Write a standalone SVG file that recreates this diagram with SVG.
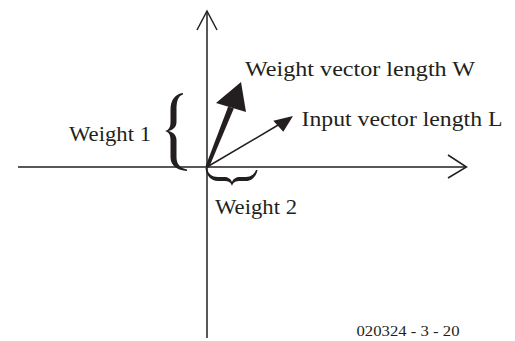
<svg xmlns="http://www.w3.org/2000/svg" width="515" height="341" viewBox="0 0 515 341">
<style>
.ax{stroke:#231f20;stroke-width:1.5;fill:none}
.ah{stroke:#231f20;stroke-width:1.5;fill:none;stroke-linejoin:miter}
.fill{fill:#231f20;stroke:none}
.lbl{font-family:"Liberation Serif","Times New Roman",serif;font-size:22px;fill:#231f20}
.code{font-family:"Liberation Serif","Times New Roman",serif;font-size:15px;fill:#231f20}
</style>
<rect width="515" height="341" fill="#ffffff"/>
<g id="connectors">
  <line class="ax" x1="207" y1="338" x2="207" y2="12"/>
  <polyline class="ah" points="197,30 207,11 217,30"/>
  <line class="ax" x1="18" y1="167" x2="466" y2="167"/>
  <polyline class="ah" points="448,155 466.5,167 448,178"/>
  <g id="weight-vector">
    <polygon class="fill" points="205.5,166.5 228.2,106.4 233.8,108.6 209,167.5"/>
    <polygon class="fill" points="241,82 246,112 216,103"/>
  </g>
  <g id="input-vector">
    <line class="ax" x1="207" y1="167" x2="279" y2="124.5"/>
    <polygon class="fill" points="293,116 283.3,131.7 273.3,120.7"/>
  </g>
</g>
<g id="brace-weight1">
  <path class="fill" d="M183,93 C175,94 170.5,100 170.5,110 L170.5,122 C170.5,127 169,130 165,131 C169,132 170.5,135 170.5,140 L170.5,157 C170.5,166 177,170 187,171 L187,169.5 C180,168 176.5,164 176.5,157 L176.5,140 C176.5,135 173,132 168.5,131 C173,130 176.5,127 176.5,122 L176.5,110 C176.5,101 178,96 183,94.5 Z"/>
</g>
<g id="brace-weight2">
  <path class="fill" d="M205.5,168 C206,175 211,181 218,181 L224,181 C228,181 231,182 232,186 C233,182 236,181 240,181 L246,181 C252,181 256.5,176 257.5,170 L256,170 C254.5,174 251,177 246,177 L240,177 C236,177 233,179 232,182 C231,179 228,177 224,177 L218,177 C212,177 208,174 207,168 Z"/>
</g>
<g id="label-weight1"><text class="lbl" x="69" y="141" textLength="82" lengthAdjust="spacingAndGlyphs">Weight 1</text></g>
<g id="label-weight-vector"><text class="lbl" x="245" y="76" textLength="230" lengthAdjust="spacingAndGlyphs">Weight vector length W</text></g>
<g id="label-input-vector"><text class="lbl" x="301.5" y="126" textLength="201" lengthAdjust="spacingAndGlyphs">Input vector length L</text></g>
<g id="label-weight2"><text class="lbl" x="215" y="214" textLength="82" lengthAdjust="spacingAndGlyphs">Weight 2</text></g>
<g id="label-code"><text class="code" x="356.5" y="336" textLength="103" lengthAdjust="spacingAndGlyphs">020324 - 3 - 20</text></g>
</svg>
